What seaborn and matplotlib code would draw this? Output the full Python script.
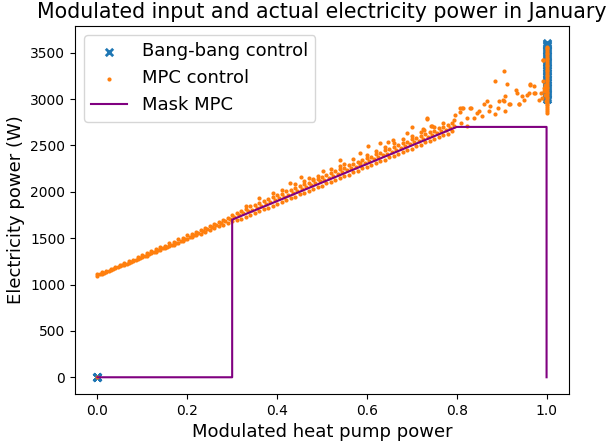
import matplotlib
matplotlib.use("Agg")
import matplotlib.pyplot as plt
import seaborn as sns
import pandas as pd

# Bang-bang control: off (0, 0) or full power at x = 1
bb_x = [0, 0, 0, 0, 0, 0,
        1, 1, 1, 1, 1, 1, 1, 1, 1, 1, 1, 1, 1, 1, 1, 1, 1, 1, 1, 1,
        1, 1, 1, 1, 1, 1, 1, 1, 1, 1, 1, 1, 1, 1, 1, 1]
bb_y = [0, 2, 5, 0, 3, 1,
        3005, 3020, 3042, 3060, 3075, 3098, 3115, 3130, 3152, 3170, 3188, 3205,
        3222, 3240, 3262, 3280, 3298, 3315, 3332, 3350, 3372, 3390, 3405, 3422,
        3440, 3462, 3480, 3498, 3515, 3532, 3550, 3568, 3582, 3595, 3608, 3000]

# MPC control: dense band along the mask line
band_x = [0.00, 0.01, 0.02, 0.03, 0.04, 0.05, 0.06, 0.07, 0.08, 0.09,
          0.10, 0.11, 0.12, 0.13, 0.14, 0.15, 0.16, 0.17, 0.18, 0.19,
          0.20, 0.21, 0.22, 0.23, 0.24, 0.25, 0.26, 0.27, 0.28, 0.29,
          0.30, 0.31, 0.32, 0.33, 0.34, 0.35, 0.36, 0.37, 0.38, 0.39,
          0.40, 0.41, 0.42, 0.43, 0.44, 0.45, 0.46, 0.47, 0.48, 0.49,
          0.50, 0.51, 0.52, 0.53, 0.54, 0.55, 0.56, 0.57, 0.58, 0.59,
          0.60, 0.61, 0.62, 0.63, 0.64, 0.65, 0.66, 0.67, 0.68, 0.69,
          0.70, 0.71, 0.72, 0.73, 0.74, 0.75, 0.76, 0.77, 0.78, 0.79]
band_low = [1095, 1114, 1133, 1158, 1174, 1196, 1213, 1236, 1250, 1276,
            1294, 1312, 1335, 1352, 1372, 1390, 1412, 1430, 1450, 1468,
            1490, 1508, 1530, 1548, 1566, 1590, 1606, 1628, 1646, 1665,
            1685, 1692, 1708, 1732, 1748, 1772, 1788, 1812, 1826, 1852,
            1868, 1892, 1908, 1932, 1948, 1972, 1986, 2012, 2028, 2052,
            2066, 2092, 2106, 2132, 2146, 2172, 2186, 2212, 2226, 2252,
            2266, 2292, 2306, 2332, 2346, 2372, 2386, 2412, 2426, 2452,
            2466, 2492, 2506, 2532, 2546, 2572, 2586, 2612, 2626, 2652]
band_high = [1112, 1131, 1150, 1172, 1193, 1210, 1235, 1255, 1270, 1297,
             1316, 1338, 1360, 1378, 1401, 1420, 1446, 1462, 1488, 1505,
             1530, 1548, 1571, 1590, 1612, 1632, 1655, 1676, 1698, 1718,
             1750, 1775, 1798, 1815, 1842, 1856, 1882, 1898, 1922, 1940,
             1962, 1978, 2004, 2018, 2045, 2060, 2084, 2100, 2125, 2140,
             2165, 2180, 2206, 2220, 2246, 2262, 2286, 2300, 2326, 2342,
             2365, 2380, 2406, 2420, 2446, 2462, 2485, 2500, 2526, 2540,
             2566, 2580, 2605, 2620, 2646, 2660, 2685, 2700, 2722, 2740]
band_mid_x = [0.005, 0.015, 0.025, 0.035, 0.045, 0.055, 0.065, 0.075, 0.085, 0.095,
              0.105, 0.115, 0.125, 0.135, 0.145, 0.155, 0.165, 0.175, 0.185, 0.195,
              0.205, 0.215, 0.225, 0.235, 0.245, 0.255, 0.265, 0.275, 0.285, 0.295,
              0.305, 0.315, 0.325, 0.335, 0.345, 0.355, 0.365, 0.375, 0.385, 0.395,
              0.405, 0.415, 0.425, 0.435, 0.445, 0.455, 0.465, 0.475, 0.485, 0.495,
              0.505, 0.515, 0.525, 0.535, 0.545, 0.555, 0.565, 0.575, 0.585, 0.595,
              0.605, 0.615, 0.625, 0.635, 0.645, 0.655, 0.665, 0.675, 0.685, 0.695,
              0.705, 0.715, 0.725, 0.735, 0.745, 0.755, 0.765, 0.775, 0.785, 0.795]
band_mid = [1110, 1125, 1148, 1168, 1186, 1208, 1226, 1248, 1268, 1288,
            1308, 1330, 1349, 1370, 1392, 1410, 1430, 1452, 1474, 1494,
            1512, 1535, 1556, 1575, 1600, 1618, 1640, 1660, 1680, 1702,
            1728, 1745, 1768, 1788, 1806, 1828, 1850, 1868, 1890, 1910,
            1930, 1948, 1970, 1990, 2012, 2030, 2052, 2070, 2092, 2112,
            2132, 2150, 2172, 2192, 2212, 2232, 2252, 2272, 2292, 2312,
            2332, 2352, 2372, 2392, 2412, 2432, 2452, 2472, 2492, 2512,
            2532, 2552, 2572, 2592, 2612, 2632, 2652, 2672, 2690, 2710]

# MPC control: scattered points above the band and near full power
scatter_x = [0.0, 0.429, 0.453, 0.480, 0.502, 0.539, 0.541, 0.584, 0.584, 0.603,
             0.629, 0.647, 0.658, 0.690, 0.701, 0.725, 0.727, 0.733, 0.734, 0.742,
             0.744, 0.793, 0.796, 0.808, 0.808, 0.809, 0.811, 0.814, 0.823, 0.823,
             0.830, 0.832, 0.838, 0.845, 0.849, 0.856, 0.860, 0.868, 0.871, 0.875,
             0.886, 0.886, 0.892, 0.893, 0.902, 0.905, 0.906, 0.908, 0.908, 0.912,
             0.917, 0.919, 0.931, 0.934, 0.938, 0.938, 0.945, 0.949, 0.957, 0.960,
             0.964, 0.964, 0.971, 0.971, 0.975, 0.983, 0.987, 0.991, 0.993, 0.990,
             0.994, 0.996, 0.992, 0.997, 0.995, 0.998,
             0.33, 0.36, 0.39, 0.41, 0.44, 0.46, 0.47, 0.49, 0.52, 0.55,
             0.57, 0.60, 0.62, 0.64, 0.66, 0.68, 0.70, 0.72, 0.75, 0.77]
scatter_y = [0, 2096, 2162, 2139, 2222, 2280, 2340, 2311, 2420, 2491,
             2527, 2534, 2563, 2635, 2699, 2678, 2671, 2797, 2789, 2714,
             2707, 2779, 2829, 2904, 2857, 2742, 2902, 2904, 2797, 2706,
             2902, 2904, 2797, 2850, 2869, 2822, 2951, 2976, 2869, 2922,
             2844, 3191, 2904, 2976, 2994, 2976, 3306, 3030, 2869, 3162,
             2951, 2948, 3102, 3066, 2948, 2951, 3030, 2994, 3048, 3066,
             3166, 3156, 3137, 3066, 3066, 2994, 3066, 3425, 3417, 3010,
             3090, 3150, 3200, 3040, 3120, 2980,
             1850, 1930, 1985, 2020, 2085, 2120, 2150, 2170, 2245, 2300,
             2350, 2400, 2440, 2480, 2530, 2570, 2600, 2640, 2700, 2740]
col_x = [1, 1, 1, 1, 1, 1, 1, 1, 1, 1, 1, 1, 1, 1, 1, 1, 1, 1, 1, 1,
         1, 1, 1, 1, 1, 1, 1, 1, 1, 1, 1, 1, 1, 1, 1, 1, 1, 1, 1, 1]
col_y = [2850, 2870, 2892, 2910, 2932, 2950, 2970, 2990, 3008, 3026,
         3045, 3062, 3080, 3098, 3118, 3135, 3152, 3170, 3190, 3208,
         3226, 3245, 3262, 3280, 3300, 3318, 3336, 3354, 3372, 3390,
         3410, 3428, 3446, 3464, 3482, 3500, 3518, 3536, 3552, 3565]

# Mask MPC
mask_x = [0, 0.3, 0.3, 0.8, 1.0, 1.0]
mask_y = [0, 0, 1700, 2700, 2700, 0]

bb = pd.DataFrame({"x": bb_x, "y": bb_y})
mpc = pd.DataFrame({
    "x": band_x + band_x + band_mid_x + scatter_x + col_x,
    "y": band_low + band_high + band_mid + scatter_y + col_y,
})
mask = pd.DataFrame({"x": mask_x, "y": mask_y})

fig, ax = plt.subplots(figsize=(6.11, 4.46), dpi=100)
fig.subplots_adjust(left=0.1227, right=0.9313, top=0.9417, bottom=0.1166)

sns.scatterplot(data=bb, x="x", y="y", ax=ax, marker="x", s=28, color="#1f77b4",
                linewidth=2.0, label="Bang-bang control")
sns.scatterplot(data=mpc, x="x", y="y", ax=ax, marker="o", s=9, color="#ff7f0e",
                linewidth=0, label="MPC control")
sns.lineplot(data=mask, x="x", y="y", ax=ax, sort=False, estimator=None,
             color="purple", linewidth=1.5, label="Mask MPC")

ax.set_title("Modulated input and actual electricity power in January", fontsize=14.8)
ax.set_xlabel("Modulated heat pump power", fontsize=13)
ax.set_ylabel("Electricity power (W)", fontsize=13)
ax.legend(loc="upper left", fontsize=13)

fig.savefig("out.png", dpi=100)
